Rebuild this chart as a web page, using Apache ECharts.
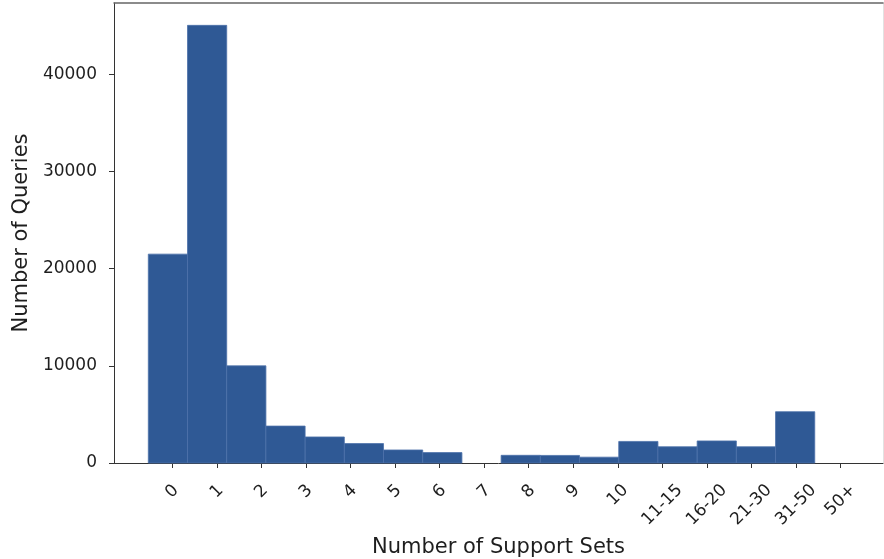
<!DOCTYPE html>
<html>
<head>
<meta charset="utf-8">
<script src="https://cdn.jsdelivr.net/npm/echarts@6/dist/echarts.min.js"></script>
<style>
  html, body { margin: 0; padding: 0; background: #fff; }
  #chart { width: 884px; height: 559px; }
</style>
</head>
<body>
<div id="chart"></div>
<script>
// ---- data ----
const tickLabels = ['0','1','2','3','4','5','6','7','8','9','10','11-15','16-20','21-30','31-50','50+'];
const tickPositions = [0,1,2,3,4,5,6,7,8,9,10,11,12,13,14,15];
const binCounts = [21500, 45050, 10000, 3800, 2680, 2000, 1340, 1070, 0, 790, 780, 600, 2220, 1670, 2270, 1670, 5280];
const yTicks = [0, 10000, 20000, 30000, 40000];
const binStart = -0.539;
const binWidth = 0.880;

const FONT = 'DejaVu Sans';
const TICK_FS = 17;
const BAR_FILL = '#2f5995';
const BAR_EDGE = '#4c71aa';

// histogram rectangles (left edge, right edge, count)
const histData = binCounts.map((c, i) => [binStart + i * binWidth, binStart + (i + 1) * binWidth, c]);

// per-label padding so rotated labels are centred under their tick like matplotlib
const ctx = document.createElement('canvas').getContext('2d');
ctx.font = TICK_FS + 'px "' + FONT + '"';
const rich = {};
tickLabels.forEach((t, i) => {
  const w = ctx.measureText(t).width;
  const p = Math.round(0.5 * (w + 19));
  rich['l' + i] = { padding: [p, p, 0, 0], fontSize: TICK_FS, fontFamily: FONT, color: '#1e1e1e' };
});

const chart = echarts.init(document.getElementById('chart'), null, { renderer: 'canvas' });
chart.setOption({
  animation: false,
  backgroundColor: '#fff',
  grid: { left: 114, right: 1, top: 3, bottom: 96, containLabel: false, outerBoundsMode: 'none' },
  xAxis: [{
    type: 'value',
    min: -1.309, max: 15.953,
    position: 'bottom',
    name: 'Number of Support Sets',
    nameLocation: 'middle',
    nameGap: 74,
    nameTextStyle: { fontSize: 21, fontFamily: FONT, color: '#1e1e1e' },
    axisLine: { show: true, onZero: false, lineStyle: { color: '#333', width: 1 } },
    axisTick: { show: true, length: 5, customValues: tickPositions, lineStyle: { color: '#333' } },
    axisLabel: {
      customValues: tickPositions,
      rotate: 45,
      align: 'center',
      verticalAlign: 'middle',
      margin: 18,
      formatter: (v) => {
        const i = tickPositions.indexOf(Math.round(v));
        return i >= 0 ? '{l' + i + '|' + tickLabels[i] + '}' : '';
      },
      rich: rich
    },
    splitLine: { show: false }
  }, {
    type: 'value',
    min: -1.309, max: 15.953,
    position: 'top',
    axisLine: { show: true, onZero: false, lineStyle: { color: '#666', width: 1.5 } },
    axisTick: { show: false },
    axisLabel: { show: false },
    splitLine: { show: false }
  }],
  yAxis: [{
    type: 'value',
    min: 0, max: 47350,
    position: 'left',
    name: 'Number of Queries',
    nameLocation: 'middle',
    nameGap: 80,
    nameTextStyle: { fontSize: 21, fontFamily: FONT, color: '#1e1e1e' },
    axisLine: { show: true, onZero: false, lineStyle: { color: '#333', width: 1 } },
    axisTick: { show: true, length: 5, customValues: yTicks, lineStyle: { color: '#333' } },
    axisLabel: {
      customValues: yTicks, fontSize: TICK_FS, fontFamily: FONT, color: '#1e1e1e', margin: 17,
      formatter: (v) => String(Math.round(v))
    },
    splitLine: { show: false }
  }, {
    type: 'value',
    min: 0, max: 47350,
    position: 'right',
    axisLine: { show: true, onZero: false, lineStyle: { color: '#e2e2e2', width: 1 } },
    axisTick: { show: false },
    axisLabel: { show: false },
    splitLine: { show: false }
  }],
  series: [{
    type: 'custom',
    xAxisIndex: 0,
    yAxisIndex: 0,
    data: histData,
    encode: { x: [0, 1], y: 2 },
    renderItem: (params, api) => {
      const x0 = api.value(0), x1 = api.value(1), y = api.value(2);
      if (!y) return null;
      const p0 = api.coord([x0, y]);
      const p1 = api.coord([x1, 0]);
      return {
        type: 'rect',
        shape: { x: p0[0], y: p0[1], width: p1[0] - p0[0], height: p1[1] - p0[1] },
        style: { fill: BAR_FILL, stroke: BAR_EDGE, lineWidth: 0.8 }
      };
    }
  }]
});
</script>
</body>
</html>
